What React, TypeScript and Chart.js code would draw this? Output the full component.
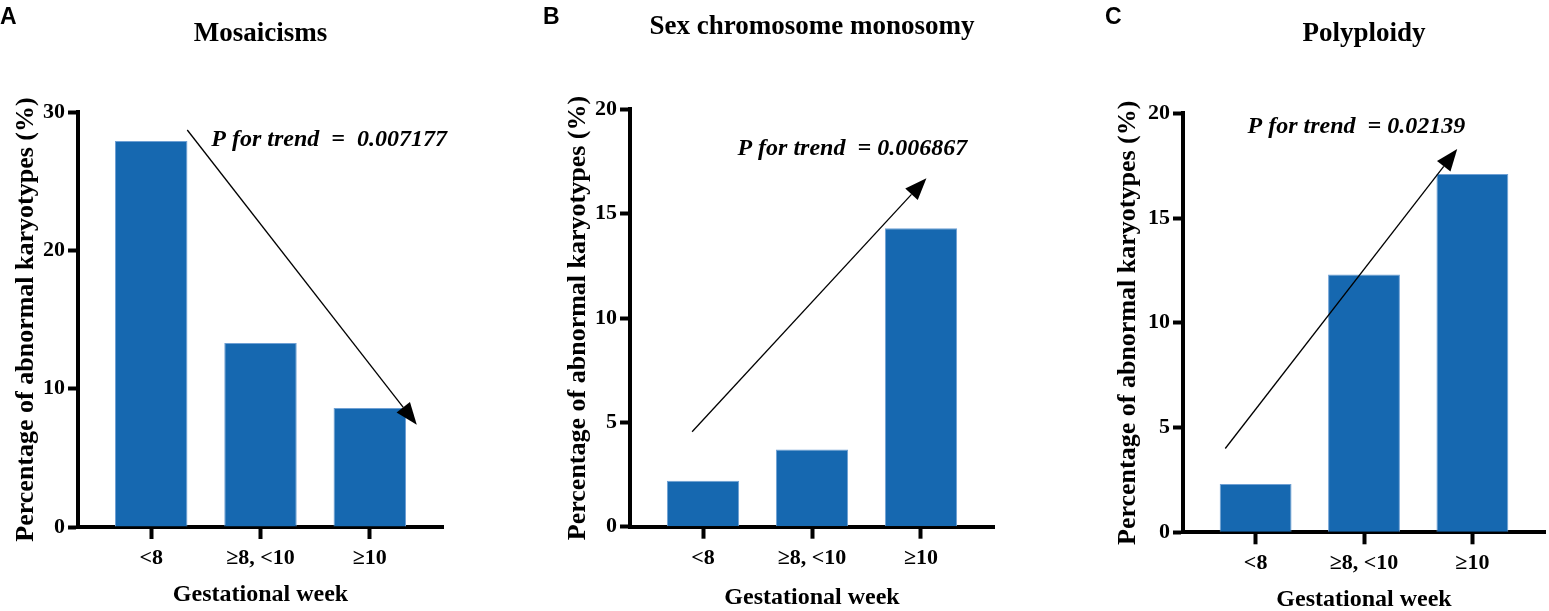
import { useEffect, useRef } from 'react';
import { Chart, registerables } from 'chart.js';
import type { Plugin } from 'chart.js';

Chart.register(...registerables);

const SERIF = "'Liberation Serif', 'Times New Roman', serif";
const SANS = "'Liberation Sans', Arial, sans-serif";
const CANVAS_H = 620;

const weekLabels = ['<8', '≥8, <10', '≥10'];

const mosaicismPct = [27.9, 13.3, 8.6];
const sexMonosomyPct = [2.2, 3.7, 14.3];
const polyploidyPct = [2.3, 12.3, 17.1];

// y axis: [max, step]
const mosaicismAxis = [30, 10];
const sexMonosomyAxis = [20, 5];
const polyploidyAxis = [20, 5];

// trend arrows: [from, to] as (category index, percent)
const mosaicismArrow = [[0.33, 28.7], [2.43, 7.4]];
const sexMonosomyArrow = [[-0.1, 4.55], [2.05, 16.7]];
const polyploidyArrow = [[-0.28, 4.0], [1.86, 18.3]];

const mosaicismTrend = 'P for trend  =  0.007177';
const sexMonosomyTrend = 'P for trend  = 0.006867';
const polyploidyTrend = 'P for trend  = 0.02139';

// where the trend text baseline starts, (category index, percent)
const mosaicismTrendAt = [0.55, 27.55];
const sexMonosomyTrendAt = [0.316, 17.8];
const polyploidyTrendAt = [-0.074, 19.05];

interface Panel {
  letter: string;
  title: string;
  values: number[];
  axis: number[];
  arrow: number[][];
  trend: string;
  trendAt: number[];
  // layout in page pixels
  left: number;
  width: number;
  plotLeft: number;
  plotRight: number;
  plotTop: number;
  plotBottom: number;
  titleMid: number;
  yTitleMid: number;
  xTitleMid: number;
  letterX: number;
}

const panels: Panel[] = [
  {
    letter: 'A', title: 'Mosaicisms', values: mosaicismPct, axis: mosaicismAxis,
    arrow: mosaicismArrow, trend: mosaicismTrend, trendAt: mosaicismTrendAt,
    left: 0, width: 516, plotLeft: 78, plotRight: 443, plotTop: 112, plotBottom: 527,
    titleMid: 34, yTitleMid: 26, xTitleMid: 595, letterX: 0,
  },
  {
    letter: 'B', title: 'Sex chromosome monosomy', values: sexMonosomyPct, axis: sexMonosomyAxis,
    arrow: sexMonosomyArrow, trend: sexMonosomyTrend, trendAt: sexMonosomyTrendAt,
    left: 516, width: 519, plotLeft: 630, plotRight: 994, plotTop: 109.3, plotBottom: 526.7,
    titleMid: 27, yTitleMid: 578, xTitleMid: 597.5, letterX: 543,
  },
  {
    letter: 'C', title: 'Polyploidy', values: polyploidyPct, axis: polyploidyAxis,
    arrow: polyploidyArrow, trend: polyploidyTrend, trendAt: polyploidyTrendAt,
    left: 1035, width: 514, plotLeft: 1183, plotRight: 1545, plotTop: 113.3, plotBottom: 532.3,
    titleMid: 34, yTitleMid: 1128, xTitleMid: 600, letterX: 1105,
  },
];

// draws the trend arrow, the P-value text and the panel letter
const trendNote: Plugin<'bar'> = {
  id: 'trendNote',
  afterDraw(chart, _args, opts: any) {
    const { ctx } = chart;
    const x = chart.scales.x;
    const y = chart.scales.y;
    const x0 = x.getPixelForValue(opts.arrow[0][0]);
    const y0 = y.getPixelForValue(opts.arrow[0][1]);
    const x1 = x.getPixelForValue(opts.arrow[1][0]);
    const y1 = y.getPixelForValue(opts.arrow[1][1]);
    const ang = Math.atan2(y1 - y0, x1 - x0);
    const cos = Math.cos(ang);
    const sin = Math.sin(ang);
    const head = 22;
    const half = 8.5;
    const bx = x1 - head * cos;
    const by = y1 - head * sin;

    ctx.save();
    ctx.strokeStyle = '#000';
    ctx.fillStyle = '#000';
    ctx.lineWidth = 1.3;
    ctx.beginPath();
    ctx.moveTo(x0, y0);
    ctx.lineTo(bx, by);
    ctx.stroke();
    ctx.beginPath();
    ctx.moveTo(x1, y1);
    ctx.lineTo(bx + half * sin, by - half * cos);
    ctx.lineTo(bx - half * sin, by + half * cos);
    ctx.closePath();
    ctx.fill();

    ctx.textAlign = 'left';
    ctx.textBaseline = 'alphabetic';
    ctx.font = `italic bold 24px ${SERIF}`;
    ctx.fillText(opts.trend, x.getPixelForValue(opts.trendAt[0]), y.getPixelForValue(opts.trendAt[1]));

    ctx.font = `bold 23px ${SANS}`;
    ctx.fillText(opts.letter, opts.letterX, 24);
    ctx.restore();
  },
};

function TrendBarChart({ panel }: { panel: Panel }) {
  const canvasRef = useRef<HTMLCanvasElement>(null);
  const chartRef = useRef<Chart | null>(null);

  useEffect(() => {
    if (!canvasRef.current) return;
    if (chartRef.current) chartRef.current.destroy();

    const p = panel;
    const titleLine = 27 * 1.2;
    const yTitleLine = 26 * 1.2;
    const xTitleLine = 24 * 1.2;
    const titlePadTop = p.titleMid - titleLine / 2;

    chartRef.current = new Chart(canvasRef.current, {
      type: 'bar',
      data: {
        datasets: [
          {
            data: p.values.map((v, i) => ({ x: i, y: v })),
            backgroundColor: '#1668b0',
            borderColor: '#6fa0d4',
            borderWidth: 1,
            barPercentage: 0.663,
            categoryPercentage: 1,
          },
        ],
      },
      options: {
        animation: false,
        responsive: true,
        maintainAspectRatio: false,
        events: [],
        layout: {
          padding: { left: 0, right: p.left + p.width - p.plotRight, top: 0, bottom: 0 },
        },
        plugins: {
          legend: { display: false },
          tooltip: { enabled: false },
          title: {
            display: true,
            text: p.title,
            fullSize: false,
            color: '#000',
            font: { family: SERIF, size: 27, weight: 'bold', lineHeight: 1.2 },
            padding: { top: titlePadTop, bottom: p.plotTop - titlePadTop - titleLine },
          },
          trendNote: {
            arrow: p.arrow,
            trend: p.trend,
            trendAt: p.trendAt,
            letter: p.letter,
            letterX: p.letterX - p.left,
          },
        } as any,
        scales: {
          x: {
            type: 'linear',
            min: -0.67,
            max: 2.67,
            offset: false,
            z: 1,
            afterBuildTicks: (s) => {
              s.ticks = weekLabels.map((_, i) => ({ value: i }));
            },
            afterFit: (s) => {
              s.height = CANVAS_H - p.plotBottom;
            },
            border: { display: true, color: '#000', width: 4 },
            grid: {
              offset: false,
              drawOnChartArea: false,
              drawTicks: true,
              tickLength: 12,
              tickWidth: 4,
              tickColor: '#000',
            },
            ticks: {
              color: '#000',
              padding: 6,
              maxRotation: 0,
              font: { family: SERIF, size: 22, weight: 'bold' },
              callback: (v) => weekLabels[Number(v)] ?? '',
            },
            title: {
              display: true,
              text: 'Gestational week',
              color: '#000',
              font: { family: SERIF, size: 24, weight: 'bold', lineHeight: 1.2 },
              padding: { top: 0, bottom: CANVAS_H - p.xTitleMid - xTitleLine / 2 },
            },
          },
          y: {
            min: 0,
            max: p.axis[0],
            z: 1,
            afterFit: (s) => {
              s.width = p.plotLeft - p.left;
            },
            border: { display: true, color: '#000', width: 4 },
            grid: {
              drawOnChartArea: false,
              drawTicks: true,
              tickLength: 10,
              tickWidth: 4,
              tickColor: '#000',
            },
            ticks: {
              stepSize: p.axis[1],
              color: '#000',
              padding: 3,
              font: { family: SERIF, size: 22, weight: 'bold' },
            },
            title: {
              display: true,
              text: 'Percentage of abnormal karyotypes (%)',
              color: '#000',
              font: { family: SERIF, size: 26, weight: 'bold', lineHeight: 1.2 },
              padding: { top: p.yTitleMid - p.left - yTitleLine / 2, bottom: 0 },
            },
          },
        },
      },
      plugins: [trendNote],
    });

    return () => {
      if (chartRef.current) {
        chartRef.current.destroy();
        chartRef.current = null;
      }
    };
  }, [panel]);

  return (
    <div style={{ position: 'absolute', left: panel.left, top: 0, width: panel.width, height: CANVAS_H }}>
      <canvas ref={canvasRef} role="img" aria-label={`${panel.title} bar chart`} />
    </div>
  );
}

export default function App() {
  return (
    <div
      style={{
        position: 'fixed',
        left: 0,
        top: 0,
        width: 1549,
        height: 611,
        overflow: 'hidden',
        background: '#fff',
      }}
    >
      {panels.map((p) => (
        <TrendBarChart key={p.letter} panel={p} />
      ))}
    </div>
  );
}
